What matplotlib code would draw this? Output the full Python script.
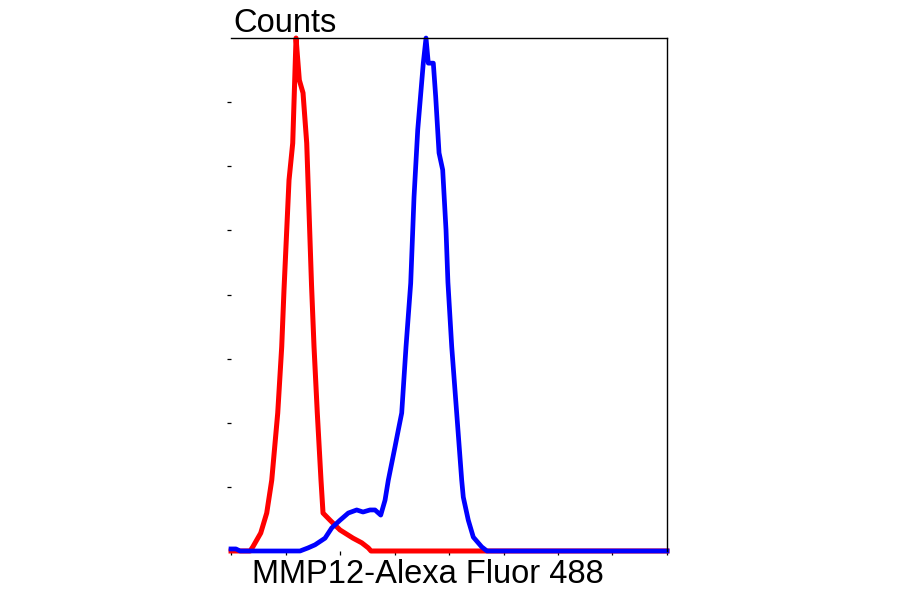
import matplotlib
matplotlib.use("Agg")
import matplotlib.pyplot as plt

# Histogram outlines (x in tick units, y in % of max count)
red_x = [0.0, 0.35, 0.40, 0.545, 0.655, 0.747, 0.857, 0.930, 0.972, 1.064, 1.132,
         1.193, 1.253, 1.321, 1.389, 1.477, 1.523, 1.583, 1.651, 1.688, 1.817,
         2.0, 2.239, 2.398, 2.519, 2.569, 8.0]
red_y = [0.0, 0.0, 0.8, 3.5, 7.4, 13.8, 26.9, 39.8, 50.9, 72.3, 79.5,
         100.0, 91.8, 89.3, 79.5, 51.9, 39.8, 26.9, 13.8, 7.4, 6.0,
         4.1, 2.5, 1.6, 0.6, 0.0, 0.0]

blue_x = [0.0, 0.09, 0.165, 1.266, 1.413, 1.541, 1.725, 1.848, 2.0, 2.152, 2.306,
          2.422, 2.55, 2.642, 2.747, 2.826, 2.886, 3.009, 3.07, 3.132, 3.211,
          3.297, 3.358, 3.426, 3.528, 3.578, 3.62, 3.712, 3.756, 3.817, 3.884,
          3.945, 3.98, 4.05, 4.141, 4.233, 4.262, 4.354, 4.446, 4.6, 4.697, 8.0]
blue_y = [0.4, 0.4, 0.0, 0.0, 0.6, 1.2, 2.5, 4.5, 6.0, 7.4, 8.0,
          7.6, 8.0, 8.0, 7.0, 9.9, 13.8, 20.3, 23.6, 26.9, 39.8,
          52.2, 69.0, 82.1, 95.1, 100.0, 95.1, 95.1, 88.5, 77.6, 74.3,
          62.6, 52.4, 39.8, 26.9, 13.8, 10.5, 6.0, 2.7, 0.8, 0.0, 0.0]

x_ticks = [0, 1, 2, 3, 4, 5, 6, 7, 8]
y_ticks = [12.5, 25, 37.5, 50, 62.5, 75, 87.5]

plt.rcParams['font.family'] = ['Liberation Sans', 'DejaVu Sans']

fig = plt.figure(figsize=(9, 5.94), dpi=100)
ax = fig.add_axes([0.2567, 0.0724, 0.4844, 0.8636])

ax.plot(red_x, red_y, color='#ff0000', lw=3.6, clip_on=False, solid_joinstyle='round')
ax.plot(blue_x, blue_y, color='#0000ff', lw=3.4, clip_on=False, solid_joinstyle='round')

ax.set_xlim(0, 8)
ax.set_ylim(0, 100)
ax.set_xticks(x_ticks)
ax.set_yticks(y_ticks)
ax.set_xticklabels([])
ax.set_yticklabels([])
ax.tick_params(axis='both', direction='out', length=3, width=0.9, color='black')

ax.spines['left'].set_visible(False)
ax.spines['bottom'].set_visible(False)
for s in ('top', 'right'):
    ax.spines[s].set_linewidth(1.0)
    ax.spines[s].set_color('black')

fig.text(233 / 900, 1 - 32 / 594, 'Counts', fontsize=23.5, ha='left', va='baseline')
fig.text(252 / 900, 1 - 583 / 594, 'MMP12-Alexa Fluor 488', fontsize=23.5,
         ha='left', va='baseline')

fig.savefig('out.png', dpi=100)
